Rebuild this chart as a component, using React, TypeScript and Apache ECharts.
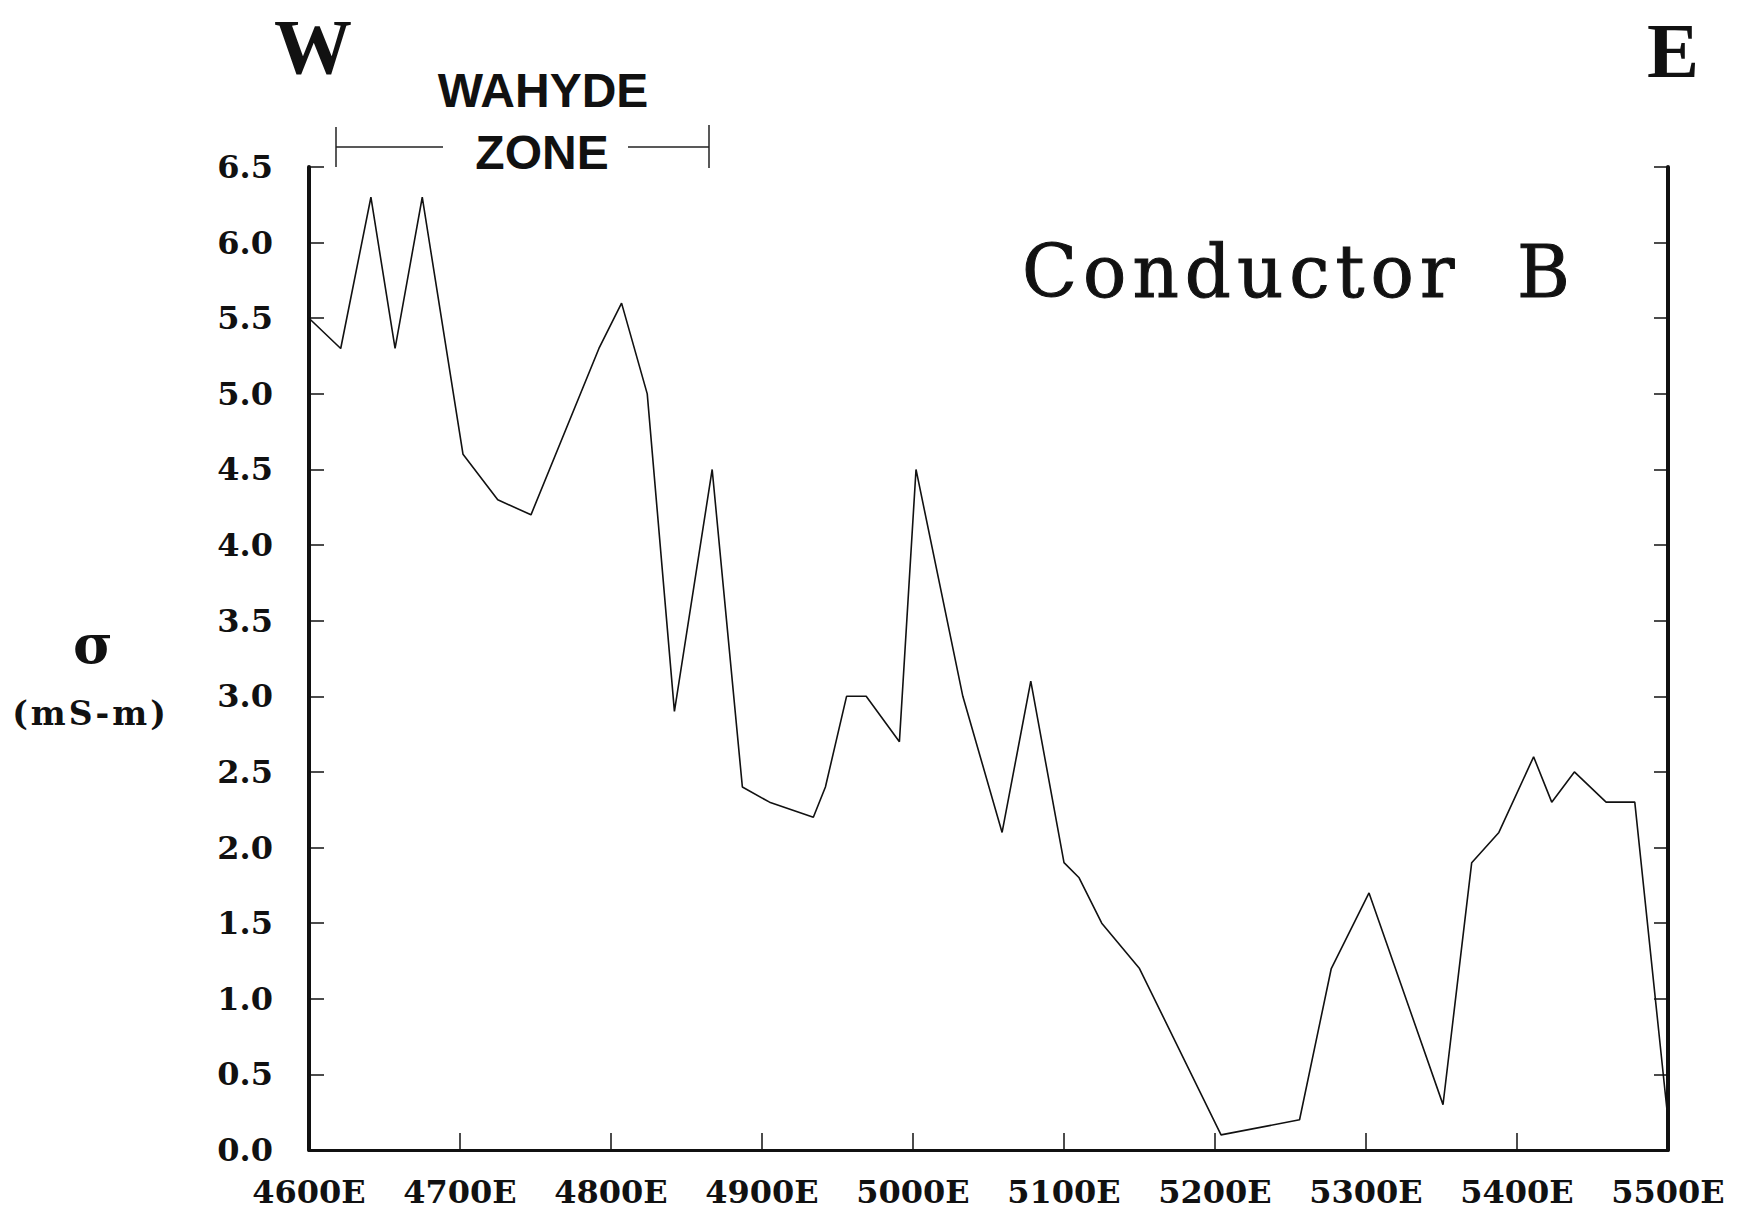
import React, { useEffect, useRef } from "react";
import * as echarts from "echarts";

// Station positions (m East) and apparent conductivity (mS/m)
const eastings: number[] = [
  4600, 4621, 4641, 4657, 4675, 4702, 4725, 4747, 4792, 4807,
  4824, 4842, 4867, 4887, 4905, 4934, 4942, 4956, 4969, 4991,
  5002, 5033, 5059, 5078, 5100, 5110, 5125, 5150, 5204, 5256,
  5277, 5302, 5351, 5370, 5388, 5411, 5423, 5438, 5459, 5478,
  5500,
];
const conductivity: number[] = [
  5.5, 5.3, 6.3, 5.3, 6.3, 4.6, 4.3, 4.2, 5.3, 5.6,
  5.0, 2.9, 4.5, 2.4, 2.3, 2.2, 2.4, 3.0, 3.0, 2.7,
  4.5, 3.0, 2.1, 3.1, 1.9, 1.8, 1.5, 1.2, 0.1, 0.2,
  1.2, 1.7, 0.3, 1.9, 2.1, 2.6, 2.3, 2.5, 2.3, 2.3,
  0.2,
];
const xRange: number[] = [4600, 5500, 100];
const yRange: number[] = [0, 6.5, 0.5];

const titleText = "Conductor";
const titleLetter = "B";
const westLabel = "W";
const eastLabel = "E";
const zoneLine1 = "WAHYDE";
const zoneLine2 = "ZONE";
const unitSymbol = "σ";
const unitText = "(mS-m)";

function measure(font: string, s: string): number {
  const c = document.createElement("canvas").getContext("2d");
  if (!c) return s.length * 20;
  c.font = font;
  return c.measureText(s).width;
}

function spacedText(
  str: string,
  font: string,
  spacing: number,
  left: number,
  cy: number,
  center = false,
  strokeW = 0
): any[] {
  const chars = Array.from(str);
  const widths = chars.map((ch) => measure(font, ch));
  const total = widths.reduce((a, b) => a + b, 0) + spacing * (chars.length - 1);
  let x = center ? left - total / 2 : left;
  return chars.map((ch, i) => {
    const style: any = {
      text: ch,
      x,
      y: cy,
      font,
      fill: "#111",
      textAlign: "left",
      textVerticalAlign: "middle",
      align: "left",
      verticalAlign: "middle",
    };
    if (strokeW > 0) {
      style.stroke = "#111";
      style.lineWidth = strokeW;
    }
    x += widths[i] + spacing;
    return { type: "text", style };
  });
}

function txt(text: string, font: string, x: number, y: number, align = "center", strokeW = 0): any {
  const style: any = {
    text,
    x,
    y,
    font,
    fill: "#111",
    textAlign: align,
    textVerticalAlign: "middle",
    align,
    verticalAlign: "middle",
  };
  if (strokeW > 0) {
    style.stroke = "#111";
    style.lineWidth = strokeW;
  }
  return { type: "text", style };
}

function ln(x1: number, y1: number, x2: number, y2: number, w = 1.5): any {
  return {
    type: "line",
    shape: { x1, y1, x2, y2 },
    style: { stroke: "#222", lineWidth: w },
  };
}

export default function App() {
  const ref = useRef<HTMLDivElement>(null);

  useEffect(() => {
    if (!ref.current) return;
    const chart = echarts.init(ref.current, undefined, { renderer: "svg" });
    const data = eastings.map((e, i) => [e, conductivity[i]]);
    const labelFont = "DejaVu Serif";
    const condFont = "72px 'DejaVu Serif'";
    const unitFont = "bold 33px 'DejaVu Serif'";

    const graphics: any[] = [
      txt(westLabel, "bold 78px 'Liberation Serif'", 313, 46),
      txt(eastLabel, "bold 78px 'Liberation Serif'", 1673, 50),
      txt(zoneLine1, "bold 48px 'Liberation Sans'", 543, 90),
      txt(zoneLine2, "bold 48px 'Liberation Sans'", 542, 152),
      ln(336, 127, 336, 167),
      ln(336, 147, 443, 147),
      ln(628, 147, 709, 147),
      ln(709, 125, 709, 168),
      txt(unitSymbol, "bold 54px 'DejaVu Serif'", 93, 644),
      ...spacedText(unitText, unitFont, 3, 89, 713, true),
      ...spacedText(titleText, condFont, 6, 1022, 272, false, 1),
      txt(titleLetter, condFont, 1517, 272, "left", 1),
    ];

    chart.setOption({
      animation: false,
      backgroundColor: "#ffffff",
      grid: { left: 309, top: 167, width: 1359, height: 983, containLabel: false },
      xAxis: {
        type: "value",
        min: xRange[0],
        max: xRange[1],
        interval: xRange[2],
        axisLine: { show: true, onZero: false, lineStyle: { color: "#111", width: 3 } },
        axisTick: { show: true, inside: true, length: 17, lineStyle: { color: "#111", width: 1.5 } },
        axisLabel: {
          show: true,
          margin: 26,
          color: "#111",
          fontFamily: labelFont,
          fontWeight: "bold",
          fontSize: 32,
          formatter: (v: number) => `${v}E`,
        },
        splitLine: { show: false },
      },
      yAxis: [
        {
          type: "value",
          position: "left",
          min: yRange[0],
          max: yRange[1],
          interval: yRange[2],
          axisLine: { show: true, onZero: false, lineStyle: { color: "#111", width: 4 } },
          axisTick: { show: true, inside: true, length: 15, lineStyle: { color: "#111", width: 1.5 } },
          axisLabel: {
            show: true,
            margin: 36,
            color: "#111",
            fontFamily: labelFont,
            fontWeight: "bold",
            fontSize: 32,
            formatter: (v: number) => v.toFixed(1),
          },
          splitLine: { show: false },
        },
        {
          type: "value",
          position: "right",
          min: yRange[0],
          max: yRange[1],
          interval: yRange[2],
          axisLine: { show: true, onZero: false, lineStyle: { color: "#111", width: 4 } },
          axisTick: { show: true, inside: true, length: 14, lineStyle: { color: "#111", width: 1.5 } },
          axisLabel: { show: false },
          splitLine: { show: false },
        },
      ],
      series: [
        {
          type: "line",
          data,
          yAxisIndex: 0,
          symbol: "none",
          lineStyle: { color: "#111", width: 1.6 },
        },
      ],
      graphic: { elements: graphics },
    });

    return () => chart.dispose();
  }, []);

  return (
    <div
      ref={ref}
      style={{ position: "absolute", left: 0, top: 0, width: 1746, height: 1217, background: "#fff" }}
    />
  );
}
